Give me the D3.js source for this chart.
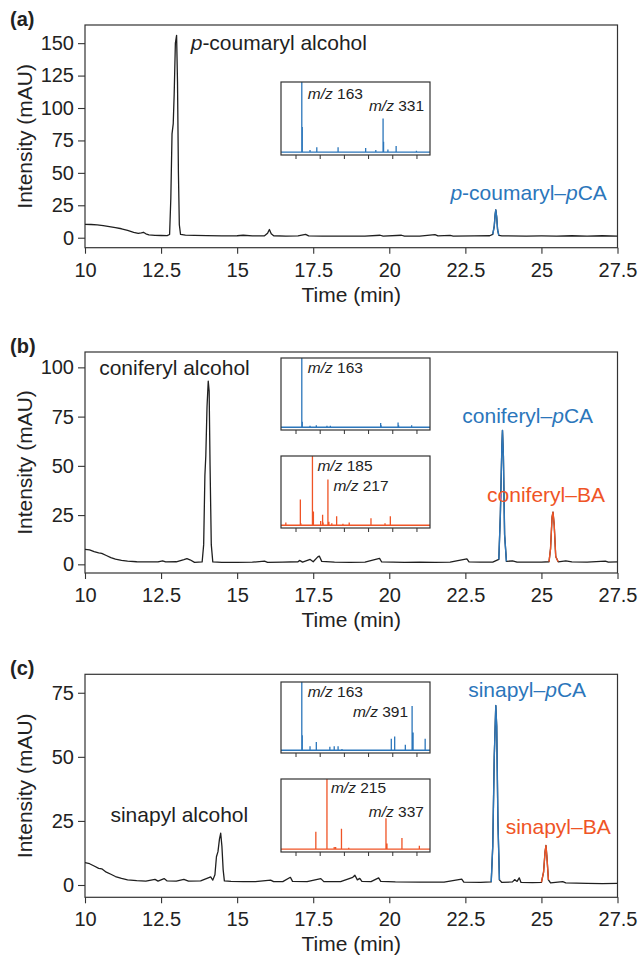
<!DOCTYPE html>
<html>
<head>
<meta charset="utf-8">
<script src="https://cdn.jsdelivr.net/npm/d3@7"></script>
<style>
  body { margin: 0; background: #fff; }
  svg { display: block; font-family: "Liberation Sans", Arial, sans-serif; }
</style>
</head>
<body>
<div id="chart"></div>
<script>

// ---- data ----
var timeTicks = [10, 12.5, 15, 17.5, 20, 22.5, 25, 27.5];
var mzTicks = [150, 200, 250, 300, 350, 400];

// chromatograms: [time (min), intensity (mAU)]
var traceA = [
  [10.0, 10.3], [10.2, 10.2], [10.4, 9.9], [10.6, 9.3], [10.8, 8.6], [11.0, 7.8], [11.2, 6.9],
  [11.4, 5.6], [11.6, 4.2], [11.75, 3.4], [11.85, 3.8], [11.92, 4.2], [12.0, 3.0], [12.1, 2.2],
  [12.3, 1.8], [12.5, 1.7], [12.7, 1.6], [12.78, 2.5], [12.82, 30], [12.86, 80], [12.9, 88],
  [12.93, 110], [12.97, 150], [13.01, 156], [13.04, 120], [13.07, 50], [13.1, 10], [13.14, 2.6],
  [13.3, 2.0], [13.6, 1.8], [14.0, 1.6], [14.5, 1.4], [15.0, 1.5], [15.2, 1.9], [15.5, 1.4],
  [15.9, 1.5], [16.0, 3.5], [16.06, 6.3], [16.12, 3.0], [16.2, 1.5], [16.6, 1.3], [17.0, 1.4],
  [17.25, 2.6], [17.35, 1.4], [17.8, 1.3], [18.5, 1.2], [19.2, 1.2], [19.7, 1.9], [19.8, 1.2],
  [20.4, 1.9], [20.5, 1.2], [21.0, 1.3], [21.5, 2.4], [21.6, 1.4], [22.0, 1.8], [22.1, 1.3],
  [22.8, 1.4], [23.3, 1.5], [23.4, 2.5], [23.45, 9], [23.48, 18], [23.5, 21.5], [23.53, 16],
  [23.56, 6], [23.6, 1.8], [23.7, 1.4], [24.5, 1.3], [25.0, 1.4], [25.5, 1.3], [26.0, 1.5],
  [26.5, 1.3], [27.0, 1.5], [27.5, 1.3]
];

var traceB = [
  [10.0, 7.6], [10.15, 7.3], [10.3, 6.4], [10.45, 5.8], [10.55, 5.6], [10.7, 4.5], [10.85, 3.4],
  [11.0, 2.6], [11.2, 2.0], [11.4, 1.6], [11.7, 1.3], [12.0, 1.2], [12.4, 1.2], [12.55, 1.8],
  [12.65, 1.2], [13.0, 1.3], [13.25, 2.4], [13.35, 2.9], [13.45, 2.3], [13.6, 1.0], [13.85, 1.2],
  [13.9, 10], [13.94, 45], [13.97, 55], [14.01, 80], [14.05, 93], [14.08, 88], [14.11, 50],
  [14.15, 10], [14.2, 1.2], [14.5, 1.0], [15.0, 1.0], [15.5, 1.1], [15.9, 1.6], [16.0, 1.0],
  [16.5, 1.1], [17.0, 1.3], [17.05, 2.0], [17.15, 1.1], [17.4, 2.5], [17.5, 1.3], [17.65, 3.8],
  [17.7, 4.2], [17.78, 1.5], [18.2, 1.1], [18.7, 1.0], [19.2, 1.1], [19.68, 3.0], [19.75, 1.2],
  [20.5, 1.0], [21.0, 1.1], [21.5, 1.0], [22.0, 1.1], [22.55, 2.8], [22.62, 1.2], [23.0, 1.1],
  [23.4, 1.1], [23.6, 2.5], [23.65, 25], [23.7, 60], [23.72, 68], [23.75, 55], [23.79, 15],
  [23.85, 1.5], [24.05, 1.8], [24.2, 1.1], [24.6, 1.1], [25.0, 1.1], [25.25, 1.3], [25.3, 8],
  [25.35, 24], [25.38, 26.5], [25.42, 20], [25.47, 4], [25.55, 1.3], [25.8, 1.8], [26.0, 1.2],
  [26.5, 1.1], [27.1, 1.6], [27.2, 1.1], [27.5, 1.2]
];

var traceC = [
  [10.0, 8.7], [10.15, 8.3], [10.3, 7.4], [10.45, 6.5], [10.55, 6.3], [10.7, 5.0], [10.85, 4.2],
  [11.0, 3.3], [11.2, 2.6], [11.4, 2.0], [11.7, 1.7], [12.0, 1.5], [12.3, 2.2], [12.4, 1.5],
  [12.6, 2.5], [12.7, 1.6], [13.0, 1.5], [13.25, 2.2], [13.4, 1.5], [13.8, 1.6], [14.05, 2.8],
  [14.13, 3.2], [14.2, 1.9], [14.27, 4], [14.32, 11], [14.37, 13], [14.42, 18], [14.46, 20.2],
  [14.5, 15], [14.54, 6], [14.58, 1.6], [14.8, 1.4], [15.2, 1.3], [15.6, 1.3], [16.1, 1.9],
  [16.2, 1.3], [16.5, 1.3], [16.75, 3.0], [16.82, 1.4], [17.3, 1.3], [17.75, 2.5], [17.85, 1.3],
  [18.4, 1.3], [18.8, 3.0], [18.87, 3.8], [18.95, 2.0], [19.03, 2.6], [19.1, 1.4], [19.4, 1.3],
  [19.65, 2.8], [19.72, 1.4], [20.2, 1.2], [21.0, 1.1], [21.8, 1.1], [22.38, 2.3], [22.45, 1.1],
  [23.0, 1.0], [23.35, 1.2], [23.4, 15], [23.45, 50], [23.5, 70], [23.53, 62], [23.57, 25],
  [23.62, 2], [23.7, 1.0], [24.05, 1.2], [24.12, 2.1], [24.2, 1.4], [24.27, 2.8], [24.33, 1.0],
  [24.7, 0.9], [25.0, 1.0], [25.07, 5], [25.12, 13], [25.15, 15.4], [25.18, 11], [25.23, 2],
  [25.3, 0.8], [25.7, 1.3], [25.8, 0.8], [26.5, 0.6], [27.0, 0.5], [27.5, 0.6]
];

// mass spectra: [m/z, relative intensity]
var msA = [[163, 100], [164, 36], [180, 3], [194, 7], [238, 7], [295, 6], [316, 3],
  [331, 48], [332, 15], [341, 4], [358, 9], [400, 2]];
var msBpca = [[163, 100], [164, 8], [180, 2], [193, 3], [215, 2], [222, 2], [326, 6],
  [327, 3], [362, 7], [363, 3], [390, 3]];
var msBba = [[130, 4], [160, 37], [161, 3], [185, 100], [187, 20], [202, 6], [206, 15],
  [207, 4], [217, 66], [219, 5], [225, 3], [235, 13], [248, 2], [261, 4], [306, 10],
  [335, 3], [346, 13]];
var msCpca = [[130, 1], [136, 1], [163, 100], [164, 22], [180, 6], [193, 12], [221, 5],
  [230, 6], [238, 6], [246, 2], [348, 17], [355, 20], [377, 8], [391, 65], [393, 26], [418, 17]];
var msCba = [[160, 1], [192, 25], [215, 100], [230, 3], [233, 3], [245, 29], [260, 2],
  [337, 44], [339, 8], [370, 16], [406, 5]];

// ---- layout ----
var BLUE = '#2b76bb';
var ORANGE = '#ef5426';
var INK = '#1f1f1f';
var W = 641, H = 958;
var plotLeft = 85, plotRight = 617.5;
var insetLeft = 281, insetRight = 430;

var panels = [
  {
    tag: '(a)', top: 25, bottom: 247.7, yDomain: [-7.7, 164],
    yTicks: [0, 25, 50, 75, 100, 125, 150], trace: traceA,
    windows: [{ from: 23.38, to: 23.62, color: BLUE }],
    labels: [
      { parts: [['p', 1], ['-coumaryl alcohol', 0]], t: 16.37, v: 145, color: INK },
      { parts: [['p', 1], ['-coumaryl\u2013', 0], ['p', 1], ['CA', 0]], t: 24.58, v: 29, color: BLUE }
    ],
    insets: [
      { top: 82, bottom: 155, spec: msA, color: BLUE,
        notes: [{ mz: 163, dx: 6, dy: 16.5, anchor: 'start', text: '163' },
                { mz: 331, dx: 41, dy: 29, anchor: 'end', text: '331' }] }
    ]
  },
  {
    tag: '(b)', top: 352, bottom: 573, yDomain: [-4.4, 107.8],
    yTicks: [0, 25, 50, 75, 100], trace: traceB,
    windows: [{ from: 23.55, to: 23.9, color: BLUE }, { from: 25.2, to: 25.6, color: ORANGE }],
    labels: [
      { parts: [['coniferyl alcohol', 0]], t: 12.94, v: 96, color: INK },
      { parts: [['coniferyl\u2013', 0], ['p', 1], ['CA', 0]], t: 24.55, v: 72, color: BLUE },
      { parts: [['coniferyl\u2013BA', 0]], t: 25.15, v: 31.8, color: ORANGE }
    ],
    insets: [
      { top: 358, bottom: 430, spec: msBpca, color: BLUE,
        notes: [{ mz: 163, dx: 6, dy: 15, anchor: 'start', text: '163' }] },
      { top: 456, bottom: 528, spec: msBba, color: ORANGE,
        notes: [{ mz: 185, dx: 5, dy: 15, anchor: 'start', text: '185' },
                { mz: 217, dx: 5.5, dy: 35, anchor: 'start', text: '217' }] }
    ]
  },
  {
    tag: '(c)', top: 674.3, bottom: 897.3, yDomain: [-4.8, 82.2],
    yTicks: [0, 25, 50, 75], trace: traceC,
    windows: [{ from: 23.3, to: 23.66, color: BLUE }, { from: 25.0, to: 25.28, color: ORANGE }],
    labels: [
      { parts: [['sinapyl alcohol', 0]], t: 13.1, v: 24.6, color: INK },
      { parts: [['sinapyl\u2013', 0], ['p', 1], ['CA', 0]], t: 24.53, v: 73.3, color: BLUE },
      { parts: [['sinapyl\u2013BA', 0]], t: 25.55, v: 19.9, color: ORANGE }
    ],
    insets: [
      { top: 682, bottom: 753, spec: msCpca, color: BLUE,
        notes: [{ mz: 163, dx: 6, dy: 15.3, anchor: 'start', text: '163' },
                { mz: 391, dx: -4, dy: 34.7, anchor: 'end', text: '391' }] },
      { top: 779, bottom: 852, spec: msCba, color: ORANGE,
        notes: [{ mz: 215, dx: 4, dy: 14, anchor: 'start', text: '215' },
                { mz: 337, dx: 38, dy: 38, anchor: 'end', text: '337' }] }
    ]
  }
];

var svg = d3.select('#chart').append('svg')
  .attr('width', W)
  .attr('height', H);

var x = d3.scaleLinear().domain([10, 27.5]).range([plotLeft, plotRight]);
var xMz = d3.scaleLinear().domain([120, 428]).range([insetLeft, insetRight]);

panels.forEach(function(p, i) {
  var g = svg.append('g');
  var y = d3.scaleLinear().domain(p.yDomain).range([p.bottom, p.top]);

  // axes
  var yAxis = d3.axisLeft(y).tickValues(p.yTicks).tickSize(7).tickPadding(4);
  var gy = g.append('g').attr('transform', 'translate(' + plotLeft + ',0)').call(yAxis);

  var xAxis = d3.axisBottom(x).tickValues(timeTicks).tickSize(6).tickPadding(9)
    .tickFormat(function(d) { return String(d); });
  var gx = g.append('g').attr('transform', 'translate(0,' + p.bottom + ')').call(xAxis);

  [gy, gx].forEach(function(ax) {
    ax.select('.domain').remove();
    ax.selectAll('line').attr('stroke', '#333').attr('stroke-width', 1.1);
    ax.selectAll('text').attr('font-size', 20).attr('fill', '#222')
      .attr('font-family', '"Liberation Sans", Arial, sans-serif');
  });

  g.append('rect')
    .attr('x', plotLeft).attr('y', p.top)
    .attr('width', plotRight - plotLeft).attr('height', p.bottom - p.top)
    .attr('fill', 'none').attr('stroke', '#333').attr('stroke-width', 1.2);

  // titles
  g.append('text')
    .attr('transform', 'translate(25,' + ((p.top + p.bottom) / 2) + ') rotate(-90)')
    .attr('text-anchor', 'middle').attr('dy', '0.35em')
    .attr('font-size', 21).attr('fill', '#222')
    .text('Intensity (mAU)');

  g.append('text')
    .attr('x', (plotLeft + plotRight) / 2).attr('y', p.bottom + 54)
    .attr('text-anchor', 'middle')
    .attr('font-size', 21).attr('fill', '#222')
    .text('Time (min)');

  g.append('text')
    .attr('x', 10).attr('y', p.top + 1)
    .attr('font-size', 20).attr('font-weight', 'bold').attr('fill', '#222')
    .text(p.tag);

  // chromatogram
  var clipId = 'clip' + i;
  svg.append('clipPath').attr('id', clipId).append('rect')
    .attr('x', plotLeft).attr('y', p.top)
    .attr('width', plotRight - plotLeft).attr('height', p.bottom - p.top);

  var line = d3.line()
    .x(function(d) { return x(d[0]); })
    .y(function(d) { return y(d[1]); });

  g.append('path')
    .datum(p.trace)
    .attr('clip-path', 'url(#' + clipId + ')')
    .attr('d', line)
    .attr('fill', 'none').attr('stroke', INK).attr('stroke-width', 1.3)
    .attr('stroke-linejoin', 'round');

  p.windows.forEach(function(w) {
    var seg = p.trace.filter(function(d) { return d[0] >= w.from && d[0] <= w.to; });
    g.append('path')
      .datum(seg)
      .attr('d', line)
      .attr('fill', 'none').attr('stroke', w.color).attr('stroke-width', 1.4)
      .attr('stroke-linejoin', 'round');
  });

  // peak labels
  p.labels.forEach(function(l) {
    var t = g.append('text')
      .attr('x', x(l.t)).attr('y', y(l.v))
      .attr('text-anchor', 'middle')
      .attr('font-size', 21).attr('fill', l.color);
    l.parts.forEach(function(part) {
      t.append('tspan').attr('font-style', part[1] ? 'italic' : 'normal').text(part[0]);
    });
  });

  // mass spectrum insets
  p.insets.forEach(function(ins) {
    var yi = d3.scaleLinear().domain([-4, 100]).range([ins.bottom, ins.top]);
    var ig = g.append('g');

    var pts = [[xMz.domain()[0], 0]];
    ins.spec.forEach(function(d) {
      pts.push([d[0], 0], [d[0], d[1]], [d[0], 0]);
    });
    pts.push([xMz.domain()[1], 0]);

    var iclip = 'iclip' + i + '_' + ins.top;
    svg.append('clipPath').attr('id', iclip).append('rect')
      .attr('x', insetLeft).attr('y', ins.top)
      .attr('width', insetRight - insetLeft).attr('height', ins.bottom - ins.top);

    ig.append('path')
      .datum(pts)
      .attr('clip-path', 'url(#' + iclip + ')')
      .attr('d', d3.line()
        .x(function(d) { return xMz(d[0]); })
        .y(function(d) { return yi(d[1]); }))
      .attr('fill', 'none').attr('stroke', ins.color).attr('stroke-width', 1.3);

    var ia = ig.append('g')
      .attr('transform', 'translate(0,' + ins.bottom + ')')
      .call(d3.axisBottom(xMz).tickValues(mzTicks).tickSize(4).tickFormat(''));
    ia.select('.domain').remove();
    ia.selectAll('line').attr('stroke', '#333').attr('stroke-width', 1);

    ig.append('rect')
      .attr('x', insetLeft).attr('y', ins.top)
      .attr('width', insetRight - insetLeft).attr('height', ins.bottom - ins.top)
      .attr('fill', 'none').attr('stroke', '#333').attr('stroke-width', 1.2);

    ins.notes.forEach(function(n) {
      var t = ig.append('text')
        .attr('x', xMz(n.mz) + n.dx).attr('y', ins.top + n.dy)
        .attr('text-anchor', n.anchor)
        .attr('font-size', 15.5).attr('fill', '#222');
      t.append('tspan').attr('font-style', 'italic').text('m/z');
      t.append('tspan').text(' ' + n.text);
    });
  });
});

</script>
</body>
</html>
